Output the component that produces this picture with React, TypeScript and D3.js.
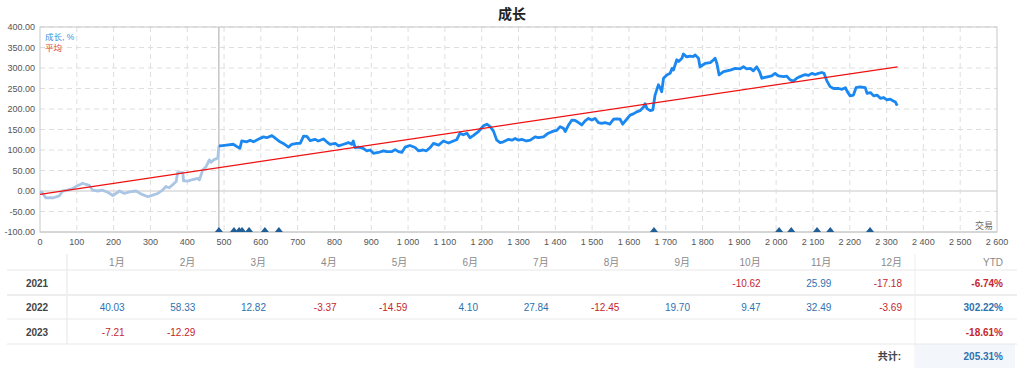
import React from "react";
import * as d3 from "d3";

// ---- data ----
const trades: number[] = [0, 6, 16, 30, 35, 52, 62, 75, 89, 102, 116, 125, 134, 143, 157, 170, 184, 198, 216, 229, 243, 261, 274, 293, 306, 320, 333, 342, 351, 360, 370, 374, 388, 390, 401, 415, 428, 433, 442, 451, 460, 464, 474, 483, 486,
  489, 507, 525, 543, 548, 562, 571, 580, 593, 607, 616, 630, 639, 652, 661, 675, 684, 698, 707, 716, 725, 734, 747, 756, 770, 779, 788, 802, 811, 825, 838, 847, 851, 856, 865, 878, 888, 897, 906, 919, 933, 942, 956, 965, 974, 983, 992, 1005, 1019, 1028, 1041, 1050, 1060, 1069, 1083, 1096, 1110, 1123, 1132, 1141, 1150, 1160, 1168, 1177, 1191, 1205, 1214, 1223, 1232, 1241, 1250, 1259, 1273, 1282, 1291, 1300, 1309, 1322, 1332, 1345, 1354, 1368, 1381, 1395, 1404, 1413, 1422, 1427, 1436, 1445, 1454, 1463, 1472, 1481, 1490, 1499, 1508, 1517, 1526, 1535, 1548, 1558, 1567, 1576, 1583, 1594, 1603, 1612, 1621, 1630, 1640, 1644, 1649, 1658, 1665, 1671, 1680, 1685, 1689, 1694, 1703, 1712, 1717, 1721, 1730, 1735, 1744, 1748, 1757, 1766, 1775, 1780, 1789, 1793, 1807, 1821, 1830, 1834, 1839, 1845, 1857, 1866, 1875, 1889, 1902, 1911, 1920, 1930, 1938, 1947, 1955, 1961, 1970, 1979, 1988, 1997, 2006, 2020, 2029, 2038, 2047, 2056, 2065, 2079, 2088, 2097, 2106, 2115, 2124, 2130, 2138, 2147, 2156, 2170, 2179, 2188, 2193, 2201, 2210, 2217, 2228, 2242, 2247, 2256, 2265, 2274, 2283, 2292, 2301, 2310, 2317, 2324, 2329];
const growth: number[] = [-2, -4, -17, -16, -17, -12, 0, 2, 6, 13, 19, 16, 14, 2, 0, 2, -3, -11, 0, -6, -2, 0, -7, -14, -10, -6, 2, 11, 8, 15, 23, 45, 45, 25, 24, 28, 31, 27, 51, 59, 76, 70, 77, 80, 110,
  110, 112, 114, 104, 122, 120, 124, 120, 126, 132, 130, 135, 129, 120, 116, 107, 114, 116, 116, 134, 133, 123, 126, 122, 127, 120, 114, 116, 110, 114, 118, 114, 122, 106, 107, 104, 98, 100, 92, 94, 98, 96, 96, 101, 96, 94, 107, 111, 106, 98, 100, 98, 106, 116, 112, 122, 117, 122, 125, 141, 137, 141, 130, 135, 145, 159, 163, 157, 146, 124, 118, 120, 126, 124, 128, 124, 126, 122, 124, 132, 130, 132, 141, 146, 148, 157, 153, 145, 161, 173, 172, 167, 161, 171, 177, 173, 177, 167, 165, 167, 163, 175, 176, 175, 163, 175, 185, 188, 193, 196, 205, 213, 201, 196, 198, 234, 259, 251, 242, 275, 283, 287, 299, 295, 320, 316, 324, 334, 327, 329, 328, 332, 324, 303, 311, 313, 320, 324, 311, 283, 291, 293, 295, 299, 298, 303, 298, 299, 293, 303, 291, 275, 277, 279, 281, 287, 281, 279, 280, 271, 268, 275, 279, 284, 282, 287, 284, 287, 289, 287, 268, 254, 250, 250, 248, 252, 243, 232, 234, 252, 254, 252, 238, 240, 232, 234, 226, 228, 222, 224, 220, 217, 208];
const historyEnd = 486;
const avgTrades: number[] = [0, 2330];
const avgValues: number[] = [-8, 303];
const depositTrades: number[] = [486, 527, 541, 549, 568, 611, 649, 1668, 2008, 2041, 2111, 2147, 2255];
const yTicks: number[] = [-100, -50, 0, 50, 100, 150, 200, 250, 300, 350, 400];
const xTicks: number[] = d3.range(0, 2601, 100);

const months: string[] = ["1月", "2月", "3月", "4月", "5月", "6月", "7月", "8月", "9月", "10月", "11月", "12月"];
const years: string[] = ["2021", "2022", "2023"];
const monthly: (number | null)[][] = [
  [null, null, null, null, null, null, null, null, null, -10.62, 25.99, -17.18],
  [40.03, 58.33, 12.82, -3.37, -14.59, 4.10, 27.84, -12.45, 19.70, 9.47, 32.49, -3.69],
  [-7.21, -12.29, null, null, null, null, null, null, null, null, null, null],
];
const ytd: number[] = [-6.74, 302.22, -18.61];
const totalLabel = "共计:";
const total = 205.31;

// ---- styles ----
const FONT = "'Liberation Sans', Arial, 'Noto Sans CJK SC', sans-serif";
const BLUE = "#1a88f0";
const LIGHT = "#abc6e4";
const POS = "#2d72b0";
const NEG = "#c4262e";

export default function App() {
  const W = 1024, H = 378;
  const x = d3.scaleLinear().domain([0, 2600]).range([40, 997]);
  const y = d3.scaleLinear().domain([-100, 400]).range([232, 27]);
  const line = d3.line<[number, number]>().x(d => x(d[0])).y(d => y(d[1]));
  const pts: [number, number][] = trades.map((t, i) => [t, growth[i]]);
  const hist = pts.filter(p => p[0] <= historyEnd);
  const live = pts.filter(p => p[0] >= historyEnd);
  const avgPts: [number, number][] = avgTrades.map((t, i) => [t, avgValues[i]]);
  const hy = (s: string) => s.replace(/\u2212/g, "-");
  const fmtX = (v: number) => d3.format(",")(v).replace(/,/g, " ");
  const fmtY = (v: number) => hy(d3.format(".2f")(v));
  const fmtV = (v: number) => hy(d3.format(".2f")(v));

  // table layout
  const colW = (915 - 67) / 12;
  const rowY = [283, 307, 332];
  const col = (v: number | null) => (v === null ? "" : v < 0 ? NEG : POS);

  return (
    <svg width={W} height={H} style={{ position: "absolute", left: 0, top: 0, fontFamily: FONT }}>
      <rect width={W} height={H} fill="#fff" />
      <text x={512} y={19} textAnchor="middle" fontSize={14} fontWeight="bold" fill="#222">成长</text>

      {/* grid */}
      {yTicks.map(t => (
        <line key={"gy" + t} x1={40} x2={997} y1={y(t)} y2={y(t)}
          stroke={t === 0 || t === -100 ? "#c8c8c8" : "#dedede"} strokeDasharray={t === 0 || t === -100 ? undefined : "5,4"} />
      ))}
      {xTicks.filter(t => t > 0 && t < 2600).map(t => (
        <line key={"gx" + t} x1={x(t)} x2={x(t)} y1={27} y2={232} stroke="#dedede" strokeDasharray="5,4" />
      ))}
      <rect x={40} y={27} width={957} height={205} fill="none" stroke="#c8c8c8" />
      <line x1={x(historyEnd)} x2={x(historyEnd)} y1={27} y2={232} stroke="#a8a8a8" />

      {/* axes labels */}
      {yTicks.map(t => (
        <text key={"ly" + t} x={35} y={y(t) + 3} textAnchor="end" fontSize={9} fill="#555">{fmtY(t)}</text>
      ))}
      {xTicks.map(t => (
        <text key={"lx" + t} x={x(t)} y={245} textAnchor="middle" fontSize={9} fill="#555">{fmtX(t)}</text>
      ))}

      {/* series */}
      <path d={line(hist) || ""} fill="none" stroke={LIGHT} strokeWidth={2.8} strokeLinejoin="round" />
      <path d={line(live) || ""} fill="none" stroke={BLUE} strokeWidth={2.8} strokeLinejoin="round" />
      <path d={line(avgPts) || ""} fill="none" stroke="#f01010" strokeWidth={1.3} />

      {depositTrades.map((t, i) => (
        <path key={"d" + i} d={`M${x(t) - 4},232 L${x(t)},227 L${x(t) + 4},232 Z`} fill="#1f5e96" />
      ))}

      <text x={45} y={40} fontSize={8.5} fill="#3b8fe0">成长, %</text>
      <text x={45} y={51} fontSize={8.5} fill="#e0403a">平均</text>
      <text x={993} y={229} textAnchor="end" fontSize={9} fill="#666">交易</text>

      {/* table */}
      <line x1={67} x2={67} y1={254} y2={344} stroke="#e4e4e4" />
      <line x1={915} x2={915} y1={254} y2={368} stroke="#eeeeee" />
      <rect x={915} y={344} width={100} height={24} fill="#f3f6fb" />
      {[270, 319, 344].map(yy => (
        <line key={"r" + yy} x1={7} x2={1017} y1={yy} y2={yy} stroke="#e8e8e8" />
      ))}
      <line x1={7} x2={1017} y1={295} y2={295} stroke="#eeeeee" strokeWidth={2} />
      {months.map((m, i) => (
        <text key={"m" + i} x={67 + colW * (i + 1) - 13} y={266} textAnchor="end" fontSize={10} fill="#8a8a8a">{m}</text>
      ))}
      <text x={1003} y={266} textAnchor="end" fontSize={10} fill="#8a8a8a">YTD</text>
      {years.map((yr, r) => (
        <g key={yr}>
          <text x={37} y={rowY[r] + 4} textAnchor="middle" fontSize={10} fontWeight="bold" fill="#444">{yr}</text>
          {monthly[r].map((v, i) => v === null ? null : (
            <text key={i} x={67 + colW * (i + 1) - 13} y={rowY[r] + 4} textAnchor="end" fontSize={10} fill={col(v)}>{fmtV(v)}</text>
          ))}
          <text x={1003} y={rowY[r] + 4} textAnchor="end" fontSize={10} fontWeight="bold" fill={col(ytd[r])}>{fmtV(ytd[r]) + "%"}</text>
        </g>
      ))}
      <text x={901} y={360} textAnchor="end" fontSize={10} fontWeight="bold" fill="#444">{totalLabel}</text>
      <text x={1003} y={360} textAnchor="end" fontSize={10} fontWeight="bold" fill={POS}>{fmtV(total) + "%"}</text>
    </svg>
  );
}
